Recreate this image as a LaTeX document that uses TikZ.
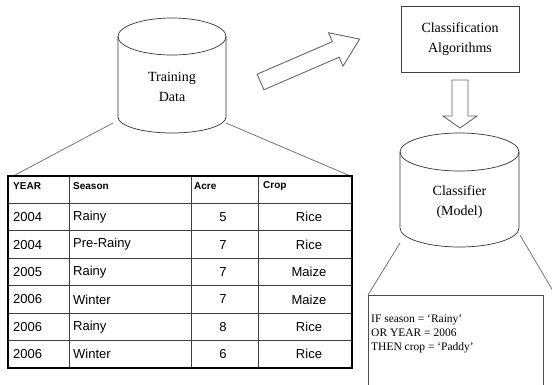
\documentclass[tikz,border=0pt]{standalone}
\usepackage{fontspec}
\setmainfont{Liberation Serif}
\newfontfamily\tabfont{Liberation Sans}
\tikzset{
  storeline/.style={draw=black!80, line width=0.7pt},
  linkline/.style={draw=black!55, line width=0.8pt},
  bigarrow/.style={draw=black!60, line width=0.9pt, line join=miter},
  gridline/.style={draw=black!75, line width=0.9pt},
  tableframe/.style={draw=black, line width=1.3pt},
  cell/.style={font=\tabfont\fontsize{13}{15}\selectfont, inner sep=0pt},
  headcell/.style={font=\tabfont\bfseries\fontsize{10}{12}\selectfont, inner sep=0pt, anchor=west},
  serifbox/.style={font=\fontsize{14}{20}\selectfont, align=center, inner sep=0pt},
  ruletext/.style={font=\fontsize{11.5}{14}\selectfont, align=left, inner sep=0pt, anchor=west}
}
\begin{document}
\begin{tikzpicture}[x=1pt,y=-1pt]
  \useasboundingbox (0,0) rectangle (552,385);
  \clip (0,0) rectangle (552,385);
  % training data store
  \draw[storeline] (172,36.5) ellipse [x radius=54, y radius=18.5];
  \draw[storeline] (118,36.5) -- (118,117) arc[start angle=180, end angle=0, x radius=54, y radius=16] -- (226,36.5);
  \node[serifbox] (train) at (172,87) {Training\\Data};
  % data table
  \coordinate (tbl-nw) at (15,175);
  \coordinate (tbl-ne) at (348,175);
  \coordinate (train-bl) at (113,123);
  \coordinate (train-br) at (226,123);
  \draw[linkline] (train-bl) -- (tbl-nw);
  \draw[linkline] (train-br) -- (tbl-ne);
  \foreach \y in {203.4,230.9,258.3,285.7,313.1,340.6}
    \draw[gridline] (8,\y) -- (352,\y);
  \foreach \x in {69,191,258}
    \draw[gridline] (\x,176) -- (\x,368);
  \draw[tableframe] (8,176) rectangle (352,368);
  % header row
  \node[headcell] (h-year) at (13,186) {YEAR};
  \node[headcell] (h-season) at (73,186) {Season};
  \node[headcell] (h-acre) at (194,186) {Acre};
  \node[headcell] (h-crop) at (263,186) {Crop};
  % data rows
  \foreach \yr/\sea/\ac/\cr [count=\i] in {2004/Rainy/5/Rice, 2004/Pre-Rainy/7/Rice, 2005/Rainy/7/Maize, 2006/Winter/7/Maize, 2006/Rainy/8/Rice, 2006/Winter/6/Rice}
  {
    \node[cell, anchor=west] (yr-\i) at (13,{189.7+27.43*\i}) {\yr};
    \node[cell, anchor=west] (sea-\i) at (73,{189.7+27.43*\i}) {\sea};
    \node[cell] (ac-\i) at (223,{189.7+27.43*\i}) {\ac};
    \node[cell] (cr-\i) at (309,{189.7+27.43*\i}) {\cr};
  }
  % arrow to the algorithms
  \begin{scope}[shift={(260.5,82)}, rotate=23.4]
    \draw[bigarrow] (0,-8.5) -- (82,-8.5) -- (82,-18.2) -- (108,0) -- (82,18.2) -- (82,8.5) -- (0,8.5) -- cycle;
  \end{scope}
  % classification algorithms
  \node[serifbox, draw=black!75, line width=0.8pt, minimum width=118pt, minimum height=66pt] (algo) at (460,39) {Classification\\Algorithms};
  \draw[bigarrow] (452,80) -- (468,80) -- (468,116) -- (477,116) -- (460,128) -- (443,116) -- (452,116) -- cycle;
  % classifier store
  \draw[storeline] (459.5,152) ellipse [x radius=59.5, y radius=19];
  \draw[storeline] (400,152) -- (400,228) arc[start angle=180, end angle=0, x radius=59.5, y radius=19] -- (519,152);
  \node[serifbox] (model) at (459.5,202) {Classifier\\(Model)};
  % rule box
  \node[draw=black!70, line width=0.8pt, anchor=north west, minimum width=175pt, minimum height=110pt, inner sep=0pt] (rules) at (368,295) {};
  \node[ruletext] (ruletxt) at (371,334) {IF season = `Rainy'\\OR YEAR = 2006\\THEN crop = `Paddy'};
  \coordinate (model-bl) at (400,243);
  \coordinate (model-br) at (520,235);
  \coordinate (rules-far) at (556,296);
  \draw[linkline] (model-bl) -- (rules.north west);
  \draw[linkline] (model-br) -- (rules-far);
\end{tikzpicture}
\end{document}
